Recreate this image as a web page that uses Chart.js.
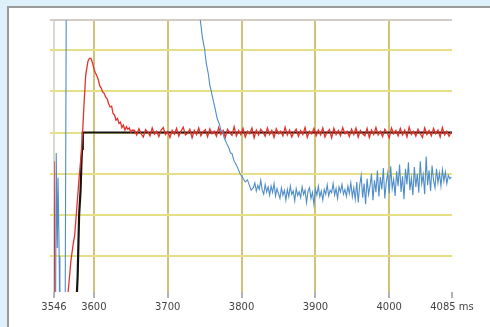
<!DOCTYPE html>
<html>
<head>
<meta charset="utf-8">
<script src="https://cdn.jsdelivr.net/npm/chart.js@4/dist/chart.umd.min.js"></script>
<style>
  html, body { margin: 0; padding: 0; background: #def1fa; overflow: hidden; }
  #panel { position: absolute; left: 7px; top: 6px; width: 500px; height: 340px;
           background: #fff; border-left: 2px solid #9a9a9a; border-top: 2px solid #9a9a9a; }
  #wrap { position: absolute; left: 0; top: 0; width: 490px; height: 327px; }
</style>
</head>
<body>
<div id="panel"></div>
<div id="wrap"><canvas id="scope" width="490" height="327"></canvas></div>
<script>
Chart.defaults.font.family = 'DejaVu Sans'
Chart.defaults.font.size = 10
Chart.defaults.color = '#444'

// x ticks (ms) and y grid levels
const xTicks = [3546, 3600, 3700, 3800, 3900, 4000, 4085]
const yTicks = [1, 2, 3, 4, 5, 6, 6.73]

// reference (black) - step response
const blackT = [3576, 3577, 3578, 3580, 3582, 3583, 3584, 3585, 4085]
const blackV = [-0.5, 0.1, 0.5, 2.0, 2.6, 3.2, 3.6, 4.0, 4.0]

// red - start / overshoot
const redT = [3546, 3547.5, 3562, 3565, 3569, 3572, 3574, 3577, 3580, 3583, 3585, 3587, 3589, 3592, 3594, 3596,
    3598, 3600, 3602, 3604, 3606, 3608, 3610, 3612, 3614, 3616, 3618, 3620, 3622, 3624, 3626, 3628, 3630, 3632,
    3634, 3636, 3638, 3640, 3642, 3644, 3646, 3648, 3650, 3652]
const redV = [3.3, -1, -1, 0.1, 0.9, 1.3, 1.5, 2.2, 2.9, 3.5, 4.1, 4.8, 5.4, 5.73, 5.8, 5.8,
    5.7, 5.55, 5.45, 5.38, 5.28, 5.13, 5.08, 4.98, 4.95, 4.86, 4.82, 4.7, 4.62, 4.64, 4.46, 4.42, 4.3, 4.34,
    4.22, 4.25, 4.12, 4.18, 4.06, 4.14, 4.08, 4.11, 4.0, 4.06]
// red - settled part, sampled every 3 ms from 3655
const redTailStart = 3655
const redTail = [
    4.05, 3.94, 4.09, 3.97, 3.89, 4.07, 4.01, 3.92, 4.11, 3.96, 4.03, 3.90,
    4.06, 4.12, 3.95, 4.02, 3.88, 4.05, 3.96, 4.10, 3.91, 4.03, 4.13, 3.94,
    3.98, 4.08, 3.87, 4.05, 3.95, 4.11, 3.92, 4.02, 4.07, 3.90, 4.09, 3.97,
    4.03, 3.91, 4.12, 3.95, 4.05, 3.88, 4.08, 4.00, 3.93, 4.14, 3.92, 4.05,
    3.95, 4.10, 3.89, 4.03, 3.97, 4.11, 3.87, 4.06, 3.94, 4.08, 4.01, 3.91,
    4.11, 3.95, 4.05, 3.88, 4.09, 3.97, 4.03, 3.92, 4.13, 3.94, 4.06, 3.89,
    4.01, 4.08, 3.91, 4.05, 3.95, 4.12, 3.88, 4.03, 3.97, 4.10, 3.92, 4.06,
    3.94, 4.11, 3.89, 4.01, 4.07, 3.87, 4.10, 3.95, 4.05, 3.92, 4.12, 3.97,
    4.03, 3.90, 4.08, 3.95, 4.11, 3.89, 4.05, 3.97, 3.92, 4.10, 3.88, 4.06,
    3.95, 4.12, 3.94, 4.03, 3.90, 4.08, 4.00, 3.87, 4.11, 3.97, 4.05, 3.92,
    4.10, 3.94, 4.06, 3.89, 4.13, 3.95, 4.03, 3.91, 4.08, 3.97, 3.88, 4.11,
    3.95, 4.05, 3.92, 4.10, 3.97, 4.06, 3.89, 4.12, 3.94, 4.03, 3.91, 4.02]
const redStep = 3

// blue - spikes at start, off the top, then falling
const blueT = [3548, 3549, 3550.5, 3551.5, 3553, 3554, 3561, 3563, 3700, 3738, 3744, 3747, 3750, 3752, 3755, 3757,
    3759, 3762, 3764, 3767, 3770, 3772, 3774, 3777, 3780, 3783, 3785, 3787, 3790, 3792, 3795, 3798, 3800, 3802,
    3805, 3808, 3811, 3813]
const blueV = [-1, 3.5, 1.2, 2.9, 1.0, -1, -1, 9, 10, 7.5, 6.75, 6.3, 6.02, 5.7, 5.42, 5.15,
    5.0, 4.75, 4.6, 4.34, 4.2, 4.05, 4.02, 3.85, 3.73, 3.62, 3.5, 3.49, 3.3, 3.25, 3.13, 3.0, 2.95, 2.89,
    2.8, 2.85, 2.7, 2.6]
// blue - noisy tail, sampled every 2 ms from 3816
const blueTailStart = 3816
const blueTail = [
    2.66, 2.78, 2.58, 2.72, 2.62, 2.84, 2.60, 2.50, 2.74, 2.56, 2.68, 2.48, 2.70, 2.55, 2.76, 2.46,
    2.64, 2.52, 2.40, 2.66, 2.48, 2.60, 2.36, 2.62, 2.44, 2.70, 2.50, 2.58, 2.34, 2.64, 2.47, 2.56,
    2.42, 2.68, 2.50, 2.60, 2.30, 2.57, 2.66, 2.40, 2.55, 2.26, 2.63, 2.48, 2.70, 2.44, 2.58, 2.36,
    2.62, 2.50, 2.73, 2.46, 2.60, 2.54, 2.76, 2.48, 2.64, 2.40, 2.68, 2.56, 2.74, 2.50, 2.62, 2.45,
    2.70, 2.52, 2.78, 2.44, 2.66, 2.38, 2.80, 2.30, 2.72, 2.96, 2.42, 2.76, 2.26, 2.88, 2.50, 2.70,
    3.00, 2.36, 2.84, 2.55, 3.08, 2.45, 2.92, 2.62, 3.14, 2.40, 2.80, 3.02, 2.52, 3.18, 2.64, 2.86,
    2.46, 3.06, 2.70, 3.22, 2.56, 2.94, 2.38, 3.12, 2.74, 3.28, 2.60, 2.90, 2.48, 3.16, 2.68, 3.00,
    2.54, 3.30, 2.76, 2.98, 2.50, 3.42, 2.72, 3.08, 2.58, 3.20, 2.84, 2.66, 3.12, 2.78, 3.02, 2.70,
    3.10, 2.82, 3.04, 2.76, 2.96, 2.88, 2.92]
const blueStep = 2

const pairs = (t, v) => t.map((x, i) => ({ x, y: v[i] }))
const tail = (start, step, vals) => vals.map((y, i) => ({ x: start + i * step, y }))

const line = (data, color, width) => ({
    data, borderColor: color, borderWidth: width, pointRadius: 0, tension: 0, fill: false
})

new Chart('scope', {
    type: 'line',
    data: {
        datasets: [
            line(pairs(blueT, blueV).concat(tail(blueTailStart, blueStep, blueTail)), '#4f8dca', 1.1),
            line(pairs(redT, redV).concat(tail(redTailStart, redStep, redTail)), '#e5302a', 1.3),
            line(pairs(blackT, blackV), '#141414', 2.2)
        ]
    },
    options: {
        responsive: false,
        animation: false,
        layout: { padding: { left: 50, right: 38, top: 20, bottom: 11 } },
        plugins: { legend: { display: false }, tooltip: { enabled: false } },
        scales: {
            x: {
                type: 'linear', min: 3546, max: 4085,
                afterBuildTicks: axis => { axis.ticks = xTicks.map(value => ({ value })) },
                ticks: {
                    autoSkip: false, maxRotation: 0, padding: 3,
                    callback: v => v === 4085 ? '4085 ms' : String(v)
                },
                grid: {
                    lineWidth: 2, tickLength: 6, tickColor: '#666', tickWidth: 1,
                    color: c => c.tick && c.tick.value === 3546 ? '#dcd8d2' : (c.tick && c.tick.value === 4085 ? 'rgba(0,0,0,0)' : '#cfc37a')
                },
                border: { display: false }
            },
            y: {
                min: 0.13, max: 6.73,
                afterBuildTicks: axis => { axis.ticks = yTicks.map(value => ({ value })) },
                ticks: { display: false },
                grid: {
                    lineWidth: 2, tickLength: 4,
                    color: c => c.tick && c.tick.value > 6.5 ? '#d3ccc4' : '#e6df86'
                },
                border: { display: false }
            }
        }
    }
})
</script>
</body>
</html>
